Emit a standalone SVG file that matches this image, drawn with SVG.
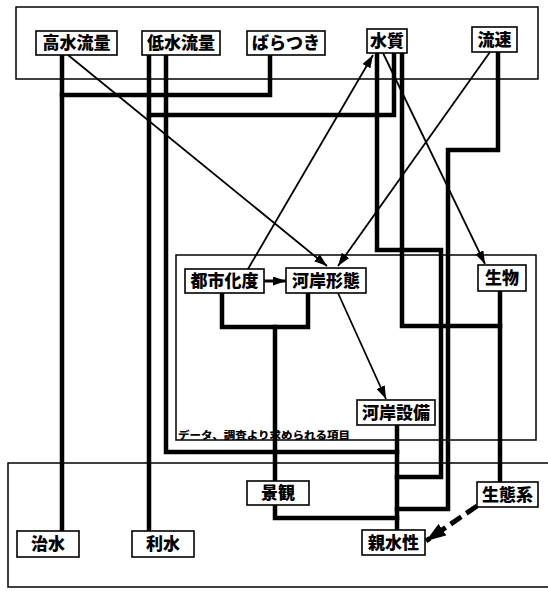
<svg xmlns="http://www.w3.org/2000/svg" width="548" height="591" viewBox="0 0 548 591">
<style>
.frame{fill:none;stroke:#000;stroke-width:1.5}
.thick{fill:none;stroke:#000;stroke-width:4.5;stroke-linejoin:miter;stroke-linecap:square}
.thin{fill:none;stroke:#000;stroke-width:1.8}
.box{fill:#fff;stroke:#000;stroke-width:1.6}
.lbl{font-family:"Noto Sans CJK JP","Noto Sans CJK SC",sans-serif;font-weight:900;font-size:17px;text-anchor:middle;fill:#000}
.small{font-family:"Noto Sans CJK JP","Noto Sans CJK SC",sans-serif;font-weight:900;font-size:10px;fill:#000}
</style>
<defs>
<marker id="ah" markerUnits="userSpaceOnUse" markerWidth="13" markerHeight="9" refX="13" refY="4.5" orient="auto">
<path d="M0,0 L13,4.5 L0,9 z" fill="#000"/>
</marker>
<marker id="ahb" markerUnits="userSpaceOnUse" markerWidth="20" markerHeight="14" refX="20" refY="7" orient="auto">
<path d="M0,0 L20,7 L0,14 z" fill="#000"/>
</marker>
</defs>
<rect width="548" height="591" fill="#fff"/>
<g id="frames">
<rect class="frame" x="16" y="7" width="522" height="72"/>
<rect class="frame" x="176" y="255" width="360" height="185"/>
<path class="frame" d="M550 463 H8 V587 H550"/>
<text class="small" x="178" y="439" textLength="172" lengthAdjust="spacingAndGlyphs">データ、調査より求められる項目</text>
</g>
<g id="connectors">
<path class="thick" d="M62 55 V531"/>
<path class="thick" d="M270 55 V95 H62"/>
<path class="thick" d="M149 55 V531"/>
<path class="thick" d="M166 55 V452 H397"/>
<path class="thick" d="M149 115 H394 V53"/>
<path class="thick" d="M377 53 V250 H441 V477 H397"/>
<path class="thick" d="M498 52 V150 H448 V509 H397"/>
<path class="thick" d="M402 53 V326 H500"/>
<path class="thick" d="M500 291 V482"/>
<path class="thick" d="M222 293 V327 H308 V293"/>
<path class="thick" d="M275 327 V481"/>
<path class="thick" d="M275 505 V518 H397"/>
<path class="thick" d="M397 425 V530"/>
<path class="thin" d="M68 55 L327 266" marker-end="url(#ah)"/>
<path class="thin" d="M248 269 L373 55" marker-end="url(#ah)"/>
<path class="thin" d="M490 52 L338 266" marker-end="url(#ah)"/>
<path class="thin" d="M383 53 L485 264" marker-end="url(#ah)"/>
<path class="thin" d="M338 293 L386 399" marker-end="url(#ah)"/>
<path d="M264 281 H286" stroke="#000" stroke-width="3" fill="none" marker-end="url(#ah)"/>
<path d="M477 506 L426 541" stroke="#000" stroke-width="5" fill="none" stroke-dasharray="13 6" marker-end="url(#ahb)"/>
</g>
<g id="n-kousui"><rect class="box" x="36" y="31" width="81" height="24"/><text class="lbl" x="76.5" y="49">高水流量</text></g>
<g id="n-teisui"><rect class="box" x="142" y="31" width="78" height="24"/><text class="lbl" x="181" y="49">低水流量</text></g>
<g id="n-baratsuki"><rect class="box" x="247" y="31" width="78" height="24"/><text class="lbl" x="286" y="49">ばらつき</text></g>
<g id="n-suishitsu"><rect class="box" x="367" y="29" width="40" height="24"/><text class="lbl" x="387" y="47">水質</text></g>
<g id="n-ryusoku"><rect class="box" x="472" y="27" width="45" height="25"/><text class="lbl" x="494.5" y="45.5">流速</text></g>
<g id="n-toshika"><rect class="box" x="185" y="269" width="79" height="24"/><text class="lbl" x="224.5" y="287">都市化度</text></g>
<g id="n-keitai"><rect class="box" x="286" y="268" width="80" height="25"/><text class="lbl" x="326" y="286.5">河岸形態</text></g>
<g id="n-seibutsu"><rect class="box" x="478" y="265" width="48" height="26"/><text class="lbl" x="502" y="284">生物</text></g>
<g id="n-setsubi"><rect class="box" x="357" y="400" width="78" height="25"/><text class="lbl" x="396" y="418.5">河岸設備</text></g>
<g id="n-keikan"><rect class="box" x="247" y="481" width="62" height="24"/><text class="lbl" x="278" y="499">景観</text></g>
<g id="n-seitaikei"><rect class="box" x="477" y="482" width="61" height="25"/><text class="lbl" x="507.5" y="500.5">生態系</text></g>
<g id="n-shinsui"><rect class="box" x="362" y="530" width="63" height="25"/><text class="lbl" x="393.5" y="548.5">親水性</text></g>
<g id="n-chisui"><rect class="box" x="17" y="531" width="62" height="26"/><text class="lbl" x="48" y="550">治水</text></g>
<g id="n-risui"><rect class="box" x="132" y="531" width="62" height="26"/><text class="lbl" x="163" y="550">利水</text></g>
</svg>
